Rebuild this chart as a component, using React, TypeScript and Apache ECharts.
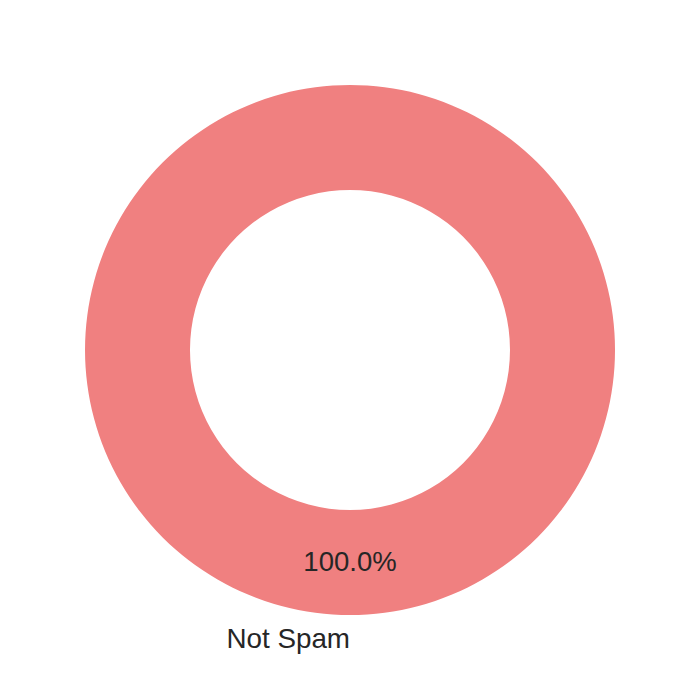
import React, { useEffect, useRef } from "react";
import * as echarts from "echarts";

const categories = ["Not Spam"];
const values = [100];
const colors = ["#F08080"];

export default function App() {
  const ref = useRef<HTMLDivElement>(null);
  useEffect(() => {
    if (!ref.current) return;
    const chart = echarts.init(ref.current, null, { renderer: "svg" });
    const total = values.reduce((a, b) => a + b, 0);
    chart.setOption({
      animation: false,
      backgroundColor: "#ffffff",
      textStyle: { fontFamily: "Liberation Sans, Arial, sans-serif" },
      series: [
        {
          type: "pie",
          center: [350, 350],
          radius: [160, 265],
          startAngle: 90,
          clockwise: false,
          silent: true,
          itemStyle: { borderWidth: 0 },
          label: {
            show: true,
            position: "inside",
            formatter: (p: any) => ((p.value / total) * 100).toFixed(1) + "%",
            color: "#262626",
            fontSize: 27.5,
            offset: [0, -4],
            fontFamily: "Liberation Sans, Arial, sans-serif",
          },
          labelLine: { show: false },
          data: categories.map((c, i) => ({
            name: c,
            value: values[i],
            itemStyle: { color: colors[i] },
          })),
        },
      ],
      graphic: [
        {
          type: "text",
          x: 350,
          y: 638,
          style: {
            text: categories[0],
            align: "right",
            verticalAlign: "middle",
            fill: "#262626",
            fontSize: 27.8,
            fontFamily: "Liberation Sans, Arial, sans-serif",
          },
        },
      ],
    });
    return () => chart.dispose();
  }, []);
  return (
    <div
      ref={ref}
      style={{ position: "fixed", left: 0, top: 0, width: 700, height: 700 }}
    />
  );
}
